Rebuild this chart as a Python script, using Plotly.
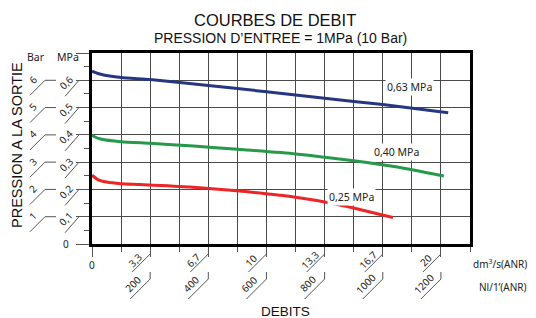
import plotly.graph_objects as go

# ---------------- data (x in Nl/min ANR, y in MPa) ----------------
blue_x = [0, 10, 30, 100, 200, 400, 600, 800, 1000, 1225]
blue_y = [0.634, 0.629, 0.622, 0.610, 0.603, 0.581, 0.558, 0.534, 0.511, 0.481]

green_x = [0, 10, 30, 100, 200, 350, 500, 700, 900, 1050, 1210]
green_y = [0.400, 0.392, 0.385, 0.375, 0.369, 0.359, 0.347, 0.330, 0.305, 0.282, 0.249]

red_x = [0, 20, 50, 100, 164, 336, 507, 678, 849, 1035]
red_y = [0.252, 0.236, 0.227, 0.221, 0.218, 0.209, 0.194, 0.175, 0.144, 0.097]

curve_names = ["0,63 MPa", "0,40 MPa", "0,25 MPa"]
curve_colors = ["#26377f", "#27994a", "#ee2526"]
label_x = [1093, 1048, 893]
label_y = [0.574, 0.337, 0.174]

x_tick_vals = [200, 400, 600, 800, 1000, 1200]
dm3_labels = ["3,3", "6,7", "10", "13,3", "16,7", "20"]
nl_labels = ["200", "400", "600", "800", "1000", "1200"]

y_tick_vals = [0.1, 0.2, 0.3, 0.4, 0.5, 0.6]
bar_labels = ["1", "2", "3", "4", "5", "6"]
mpa_labels = ["0,1", "0,2", "0,3", "0,4", "0,5", "0,6"]

# ---------------- figure ----------------
OFF = 8                      # default page body margin
W, H = 536 - OFF, 318 - OFF
L, T, PW, PH = 92 - OFF, 53 - OFF, 378, 191
R, B = W - L - PW, H - T - PH

def px(xp):                  # page pixel -> paper x
    return (xp - OFF - L) / PW

def py(yp):                  # page pixel -> paper y
    return (T + PH - (yp - OFF)) / PH

fig = go.Figure()
for xs, ys, c in zip([blue_x, green_x, red_x], [blue_y, green_y, red_y], curve_colors):
    fig.add_trace(go.Scatter(x=xs, y=ys, mode="lines",
                             line=dict(color=c, width=3, shape="spline", smoothing=0.6),
                             hoverinfo="skip", showlegend=False))

grey = "#555555"
lab_font = dict(family="Noto Sans, Open Sans, sans-serif", size=10, color="#222")
annots = []
shapes = []

def ann(**kw):
    kw.setdefault("showarrow", False)
    kw.setdefault("xanchor", "center")
    kw.setdefault("yanchor", "middle")
    annots.append(kw)

def seg(xref, xa, yref, ya, x0, y0, x1, y1):
    shapes.append(dict(type="line", xref=xref, xsizemode="pixel", xanchor=xa,
                       x0=x0, x1=x1, yref=yref, ysizemode="pixel", yanchor=ya,
                       y0=y0, y1=y1, line=dict(color=grey, width=1)))

# curve labels
for name, lx, ly in zip(curve_names, label_x, label_y):
    ann(x=lx, y=ly, xref="x", yref="y", text=name, bgcolor="white", borderpad=1,
        font=dict(family="Noto Sans, sans-serif", size=10.5, color="#222"))

# y tick decorations
for v, b, m in zip(y_tick_vals, bar_labels, mpa_labels):
    ann(x=0, xref="paper", y=v, yref="y", xshift=-26.5, yshift=-2.5, text=m,
        textangle=-45, font=lab_font)
    ann(x=0, xref="paper", y=v, yref="y", xshift=-59.5, yshift=0.5, text=b,
        textangle=-45, font=lab_font)
    for (x0, y0, x1, y1) in [(-13, 0, -27, -16), (-36, 0, -47, 0), (-47, 0, -62, -15)]:
        seg("paper", 0, "y", v, x0, y0, x1, y1)

# x tick decorations
for v, d, n in zip(x_tick_vals, dm3_labels, nl_labels):
    ann(x=v, xref="x", y=0, yref="paper", xshift=-15, yshift=-16, text=d,
        textangle=-45, font=lab_font)
    ann(x=v, xref="x", y=0, yref="paper", xshift=-17.5, yshift=-39.5, text=n,
        textangle=-45, font=lab_font)
    for (x0, y0, x1, y1) in [(0, -10, -18, -28), (0, -28, 0, -35), (0, -35, -20, -55)]:
        seg("x", v, "paper", 0, x0, y0, x1, y1)

# zero labels
ann(x=0, xref="paper", y=0, yref="y", xshift=-26, yshift=0, text="0", font=lab_font)
ann(x=0, xref="x", y=0, yref="paper", yshift=-21, text="0", font=lab_font)

ttl = "Liberation Sans, Arial, sans-serif"
sm = dict(family="Noto Sans, sans-serif", size=10, color="#222")
ann(x=px(275), y=py(20), xref="paper", yref="paper", text="COURBES DE DEBIT",
    font=dict(family=ttl, size=16.5, color="#111"))
ann(x=px(280), y=py(38), xref="paper", yref="paper",
    text="PRESSION D\u2019ENTREE = 1MPa (10 Bar)",
    font=dict(family=ttl, size=14, color="#111"))
ann(x=px(17), y=py(145), xref="paper", yref="paper", text="PRESSION A LA SORTIE",
    textangle=-90, font=dict(family=ttl, size=14.5, color="#111"))
ann(x=px(36), y=py(57), xref="paper", yref="paper", text="Bar",
    font=dict(family="Noto Sans, sans-serif", size=10.5, color="#222"))
ann(x=px(68), y=py(57), xref="paper", yref="paper", text="MPa",
    font=dict(family="Noto Sans, sans-serif", size=10.5, color="#222"))
ann(x=px(285), y=py(311), xref="paper", yref="paper", text="DEBITS",
    font=dict(family=ttl, size=13.5, color="#111"))
ann(x=px(471), y=py(264), xref="paper", yref="paper", xanchor="left",
    text="dm<sup>3</sup>/s(ANR)", font=sm)
ann(x=px(477), y=py(287), xref="paper", yref="paper", xanchor="left",
    text="Nl/1\u2019(ANR)", font=sm)

fig.update_layout(
    width=W, height=H, margin=dict(l=L, r=R, t=T, b=B, pad=0, autoexpand=False),
    paper_bgcolor="white", plot_bgcolor="white",
    showlegend=False, annotations=annots, shapes=shapes,
    xaxis=dict(range=[0, 1300], dtick=200, tick0=0, showticklabels=False,
               ticks="outside", ticklen=10, tickcolor=grey, tickwidth=1,
               showgrid=True, gridcolor="#4a4a4a", gridwidth=1.3, zeroline=False,
               showline=True, linecolor="black", linewidth=3, mirror=True,
               minor=dict(dtick=100, ticks="outside", ticklen=5, tickcolor=grey,
                          showgrid=True, gridcolor="#4a4a4a", gridwidth=1.3)),
    yaxis=dict(range=[0, 0.7], dtick=0.1, tick0=0, showticklabels=False,
               ticks="outside", ticklen=13, tickcolor=grey, tickwidth=1,
               showgrid=True, gridcolor="#4a4a4a", gridwidth=1.3, zeroline=False,
               showline=True, linecolor="black", linewidth=3, mirror=True,
               minor=dict(dtick=0.05, ticks="outside", ticklen=5, tickcolor=grey,
                          showgrid=False)),
)

fig.write_html("out.html")
